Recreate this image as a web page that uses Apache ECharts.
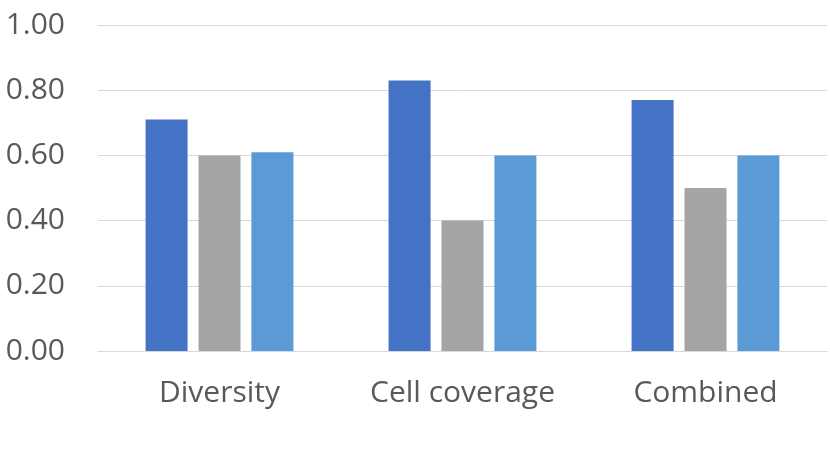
<!DOCTYPE html>
<html>
<head>
<meta charset="utf-8">
<script src="https://cdn.jsdelivr.net/npm/echarts@6/dist/echarts.min.js"></script>
<style>
html,body{margin:0;padding:0;background:#fff;}
#chart{width:830px;height:467px;}
</style>
</head>
<body>
<div id="chart"></div>
<script>
// categories and series values
var categories = ['Diversity', 'Cell coverage', 'Combined'];
var seriesA = [0.71, 0.83, 0.77];
var seriesB = [0.60, 0.40, 0.50];
var seriesC = [0.61, 0.60, 0.60];
var colors = ['#4472C4', '#A5A5A5', '#5B9BD5'];

var myChart = echarts.init(document.getElementById('chart'));
var option = {
	animation: false,
	color: colors,
	grid: {left: 98, right: 3, top: 25, bottom: 116},
	xAxis: {
		type: 'category',
		data: categories,
		axisLine: {lineStyle: {color: '#D9D9D9'}},
		axisTick: {show: false},
		axisLabel: {
			color: '#595959',
			fontFamily: 'Open Sans',
			fontSize: 30,
			margin: 27
		}
	},
	yAxis: {
		type: 'value',
		min: 0,
		max: 1,
		interval: 0.2,
		axisLine: {show: false},
		axisTick: {show: false},
		splitLine: {lineStyle: {color: '#D9D9D9'}},
		axisLabel: {
			color: '#595959',
			fontFamily: 'Open Sans',
			fontSize: 30,
			margin: 33,
			formatter: function(v){ return v.toFixed(2); }
		}
	},
	series: [
		{type: 'bar', data: seriesA, barWidth: 42, barGap: '26%'},
		{type: 'bar', data: seriesB, barWidth: 42, barGap: '26%'},
		{type: 'bar', data: seriesC, barWidth: 42, barGap: '26%'}
	]
};
myChart.setOption(option);
window.onresize = myChart.resize;
</script>
</body>
</html>
